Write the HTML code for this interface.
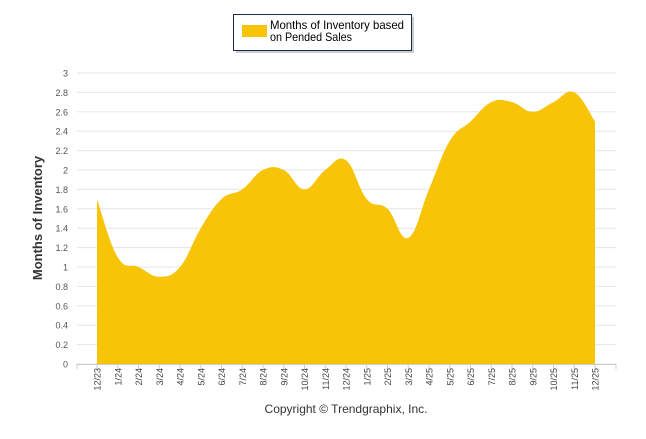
<!DOCTYPE html>
<html><head><meta charset="utf-8"><style>
body{margin:0;background:#fff;width:646px;height:434px;overflow:hidden;font-family:"Liberation Sans",sans-serif}
</style></head><body>
<svg width="646" height="434">
<g id="grid"></g>
<path id="area" fill="#F7C408"></path>
<g id="axes"></g>
<text x="42" y="218" transform="rotate(-90 42 218)" text-anchor="middle" font-size="13" font-weight="bold" fill="#333">Months of Inventory</text>
<text x="346" y="413" text-anchor="middle" font-size="12" fill="#333">Copyright © Trendgraphix, Inc.</text>
<g>
<rect x="236" y="17" width="178" height="36" fill="#999" opacity="0.5"/>
<rect x="233.5" y="14.5" width="178" height="36" fill="#fff" stroke="#1a2a4a" stroke-width="1"/>
<rect x="242" y="25" width="25" height="12" fill="#F7C408"/>
<text x="270" y="29" font-size="12" fill="#000" textLength="134" lengthAdjust="spacingAndGlyphs">Months of Inventory based</text>
<text x="270" y="41" font-size="12" fill="#000" textLength="82" lengthAdjust="spacingAndGlyphs">on Pended Sales</text>
</g>
</svg>
<script>
const categories=["12/23","1/24","2/24","3/24","4/24","5/24","6/24","7/24","8/24","9/24","10/24","11/24","12/24","1/25","2/25","3/25","4/25","5/25","6/25","7/25","8/25","9/25","10/25","11/25","12/25"];
const values=[1.7,1.1,1.0,0.9,1.0,1.4,1.7,1.8,2.0,2.0,1.8,2.0,2.1,1.7,1.6,1.3,1.8,2.3,2.5,2.7,2.7,2.6,2.7,2.8,2.5];
const yTicks=[0,0.2,0.4,0.6,0.8,1,1.2,1.4,1.6,1.8,2,2.2,2.4,2.6,2.8,3];
const NS="http://www.w3.org/2000/svg";
const x0=97,dx=(595-97)/(categories.length-1);
const xs=i=>x0+i*dx, ys=v=>364-v*97;
const grid=document.getElementById('grid'),axes=document.getElementById('axes');
function mk(t,a,p){const e=document.createElementNS(NS,t);for(const k in a)e.setAttribute(k,a[k]);p.appendChild(e);return e;}
yTicks.forEach(v=>{
 const l=mk('line',{x1:77,x2:616,y1:ys(v),y2:ys(v),stroke:'#e6e6e6','stroke-width':1},grid);
 
 
 const t=mk('text',{x:68,y:ys(v)+3.5,'text-anchor':'end','font-size':9,fill:'#555'},axes);
 t.textContent=String(v);
 
 
});
mk('line',{x1:77,x2:616,y1:364.5,y2:364.5,stroke:'#ccc'},axes);
categories.forEach((c,i)=>{
 const x=xs(i);
 mk('line',{x1:x,x2:x,y1:364,y2:369,stroke:'#ccc'},axes);
 const t=mk('text',{x:x+3.5,y:368,'text-anchor':'end','font-size':9,fill:'#444',transform:`rotate(-90 ${x+3.5} 368)`},axes);
 t.textContent=c;
 
 
});
mk('line',{x1:77,x2:77,y1:364,y2:369,stroke:'#ccc'},axes);
mk('line',{x1:616,x2:616,y1:364,y2:369,stroke:'#ccc'},axes);
const P=values.map((v,i)=>[xs(i),ys(v)]);
let d=`M${P[0][0]},${ys(0)} L${P[0][0]},${P[0][1]}`;
for(let i=0;i<P.length-1;i++){
 const p0=P[Math.max(i-1,0)],p1=P[i],p2=P[i+1],p3=P[Math.min(i+2,P.length-1)];
 const k=0.2;
 d+=` C${p1[0]+(p2[0]-p0[0])*k},${p1[1]+(p2[1]-p0[1])*k} ${p2[0]-(p3[0]-p1[0])*k},${p2[1]-(p3[1]-p1[1])*k} ${p2[0]},${p2[1]}`;
}
d+=` L${P[P.length-1][0]},${ys(0)} Z`;
document.getElementById('area').setAttribute('d',d);
</script>
</body></html>
